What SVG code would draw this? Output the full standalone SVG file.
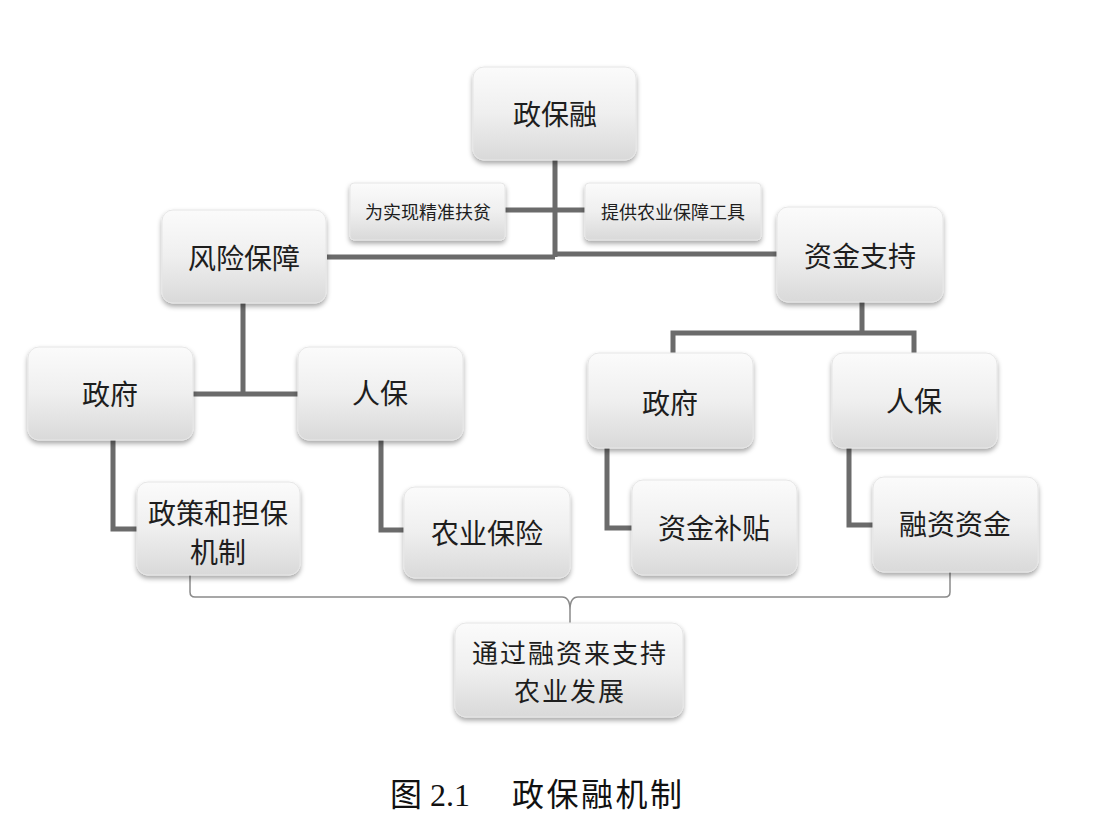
<svg xmlns="http://www.w3.org/2000/svg" width="1095" height="830" viewBox="0 0 1095 830">
<style>
.box{fill:url(#g);stroke:#e6e6e6;stroke-width:1;filter:url(#sh)}
.t{font-family:"Noto Sans CJK SC","Noto Sans",sans-serif;font-size:28px;fill:#1e1e1e;text-anchor:middle;dominant-baseline:central}
.s{font-size:18px}
.m{font-size:26px}
.c{fill:none;stroke:#6b6b6b;stroke-width:5}
.b{fill:none;stroke:#8a8a8a;stroke-width:1.5}
.cap{font-family:"Liberation Serif","Noto Sans CJK SC",serif;font-size:32px;fill:#111}
</style>
<defs>
<linearGradient id="g" x1="0" y1="0" x2="0" y2="1">
<stop offset="0" stop-color="#fbfbfb"/>
<stop offset="0.5" stop-color="#efefef"/>
<stop offset="1" stop-color="#d9d9d9"/>
</linearGradient>
<filter id="sh" x="-10%" y="-10%" width="120%" height="130%">
<feDropShadow dx="0" dy="3" stdDeviation="2.5" flood-color="#000" flood-opacity="0.35"/>
</filter>
</defs>
<rect width="1095" height="830" fill="#fff"/>
<g id="connectors">
<path class="c" d="M555,160 V257 M505,210 H585 M327,257 H555 M555,254 H777"/>
<path class="c" d="M243,303 V394 M193,394 H298"/>
<path class="c" d="M113,440 V529 H137"/>
<path class="c" d="M381,440 V530 H404"/>
<path class="c" d="M862,302 V333 M673,353 V333 H914 V353"/>
<path class="c" d="M607,448 V528 H632"/>
<path class="c" d="M849,448 V525 H873"/>
<path class="b" d="M190,575 V592 Q190,597 195,597 H562 Q570,597 570,610 V624 M570,610 Q570,597 578,597 H945 Q950,597 950,592 V572"/>
</g>
<g id="n_zhengbaorong"><rect class="box" x="473" y="67" width="163" height="93" rx="11"/><text class="t" x="555" y="113">政保融</text></g>
<g id="n_jingzhun"><rect class="box" x="350" y="183" width="155" height="57" rx="4"/><text class="t s" x="428" y="211">为实现精准扶贫</text></g>
<g id="n_tigong"><rect class="box" x="585" y="183" width="176" height="57" rx="4"/><text class="t s" x="673" y="211">提供农业保障工具</text></g>
<g id="n_fengxian"><rect class="box" x="162" y="210" width="164" height="93" rx="11"/><text class="t" x="244" y="257">风险保障</text></g>
<g id="n_zijinzhichi"><rect class="box" x="777" y="207" width="166" height="95" rx="11"/><text class="t" x="860" y="255">资金支持</text></g>
<g id="n_zhengfu_l"><rect class="box" x="28" y="347" width="165" height="93" rx="11"/><text class="t" x="110" y="393">政府</text></g>
<g id="n_renbao_l"><rect class="box" x="298" y="347" width="165" height="93" rx="11"/><text class="t" x="380" y="392">人保</text></g>
<g id="n_zhengfu_r"><rect class="box" x="588" y="353" width="165" height="95" rx="11"/><text class="t" x="670" y="402">政府</text></g>
<g id="n_renbao_r"><rect class="box" x="832" y="353" width="165" height="95" rx="11"/><text class="t" x="914" y="400">人保</text></g>
<g id="n_zhengce"><rect class="box" x="137" y="482" width="163" height="93" rx="11"/><text class="t" x="218" y="512">政策和担保</text><text class="t" x="218" y="551">机制</text></g>
<g id="n_nongye"><rect class="box" x="404" y="487" width="166" height="91" rx="11"/><text class="t" x="487" y="532">农业保险</text></g>
<g id="n_butie"><rect class="box" x="632" y="480" width="165" height="95" rx="11"/><text class="t" x="714" y="527">资金补贴</text></g>
<g id="n_rongzi"><rect class="box" x="873" y="477" width="165" height="95" rx="11"/><text class="t" x="955" y="523">融资资金</text></g>
<g id="n_tongguo"><rect class="box" x="455" y="623" width="228" height="94" rx="11"/><text class="t m" x="569" y="651" textLength="194">通过融资来支持</text><text class="t m" x="569" y="689" textLength="110">农业发展</text></g>
<g id="caption">
<text class="cap" x="390" y="806">图</text>
<text class="cap" x="430" y="806">2.1</text>
<text class="cap" x="512" y="806" textLength="170">政保融机制</text>
</g>
</svg>
